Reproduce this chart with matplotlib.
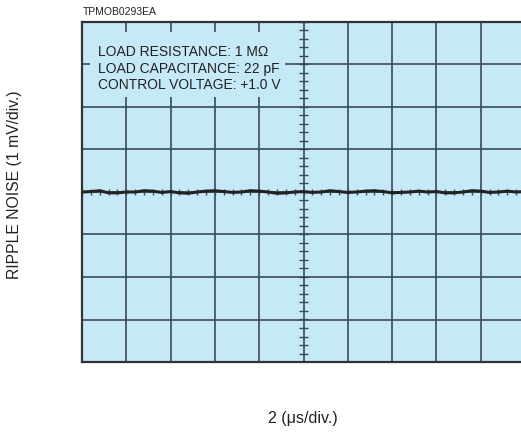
import numpy as np
import matplotlib
matplotlib.use('Agg')
import matplotlib.pyplot as plt
from matplotlib.patches import Rectangle

plt.rcParams['font.family'] = ['Liberation Sans', 'DejaVu Sans']

# trace sampled every 0.2 div (time, 2 us/div), ripple in mV
t_div = [0.0, 0.2, 0.4, 0.6, 0.8, 1.0, 1.2, 1.4, 1.6, 1.8,
         2.0, 2.2, 2.4, 2.6, 2.8, 3.0, 3.2, 3.4, 3.6, 3.8,
         4.0, 4.2, 4.4, 4.6, 4.8, 5.0, 5.2, 5.4, 5.6, 5.8,
         6.0, 6.2, 6.4, 6.6, 6.8, 7.0, 7.2, 7.4, 7.6, 7.8,
         8.0, 8.2, 8.4, 8.6, 8.8, 9.0, 9.2, 9.4, 9.6, 9.8, 10.0]
ripple_mv = [0.00, 0.01, 0.03, -0.02, -0.02, 0.00, 0.00, 0.03, 0.02, -0.01,
             0.01, -0.02, -0.03, 0.00, 0.02, 0.03, 0.01, -0.01, 0.00, 0.03,
             0.02, 0.00, -0.03, -0.02, 0.00, 0.01, -0.01, 0.00, 0.03, 0.01,
             -0.01, 0.00, 0.02, 0.03, 0.01, -0.02, -0.01, 0.00, 0.02, 0.00,
             0.01, -0.02, -0.02, 0.00, 0.03, 0.02, -0.01, 0.00, 0.02, 0.00, 0.01]
conditions = ['LOAD RESISTANCE: 1 M\u03a9',
              'LOAD CAPACITANCE: 22 pF',
              'CONTROL VOLTAGE: +1.0 V']
cond_y = [3.29, 2.90, 2.51]

screen = '#c6e9f8'
grid_c = '#3d4a55'

fig = plt.figure(figsize=(5.21, 4.32), dpi=100)
ax = fig.add_axes([82/521, 70/432, 443/521, 340/432])
ax.set_facecolor(screen)
ax.set_xlim(0, 10)
ax.set_ylim(-4, 4)
ax.set_xticks([])
ax.set_yticks([])
for s in ax.spines.values():
    s.set_color('#333333')
    s.set_linewidth(1.6)

# graticule
for x in range(1, 10):
    ax.axvline(x, color=grid_c, lw=1.2, zorder=1)
for y in range(-3, 4):
    ax.axhline(y, color=grid_c, lw=1.2, zorder=1)

# minor ticks on centre lines
minor = np.arange(0, 10.01, 0.2)
ax.vlines(minor, -0.07, 0.07, color=grid_c, lw=1.0, zorder=1)
minor_y = np.arange(-4, 4.01, 0.2)
ax.hlines(minor_y, 4.9, 5.1, color=grid_c, lw=1.0, zorder=1)

ax.plot(t_div, ripple_mv, color='#222222', lw=2.2, zorder=3)

# blank area behind the condition text
ax.add_patch(Rectangle((0.18, 2.24), 4.4, 1.52, facecolor=screen,
                       edgecolor='none', zorder=2))
for txt, yy in zip(conditions, cond_y):
    ax.text(0.36, yy, txt, fontsize=10, va='center', ha='left',
            color='#222222', zorder=4)

fig.text(83/521, 1 - 12/432, 'TPMOB0293EA', fontsize=7.5, va='center', ha='left',
         color='#222222')
fig.text(15/521, 1 - 185/432, 'RIPPLE NOISE (1 mV/div.)', fontsize=11.3,
         rotation=90, va='center', ha='center', color='#222222')
fig.text(303/521, 1 - 419/432, '2 (\u03bcs/div.)', fontsize=11.5,
         va='center', ha='center', color='#222222')

fig.savefig('out.png', dpi=100)
